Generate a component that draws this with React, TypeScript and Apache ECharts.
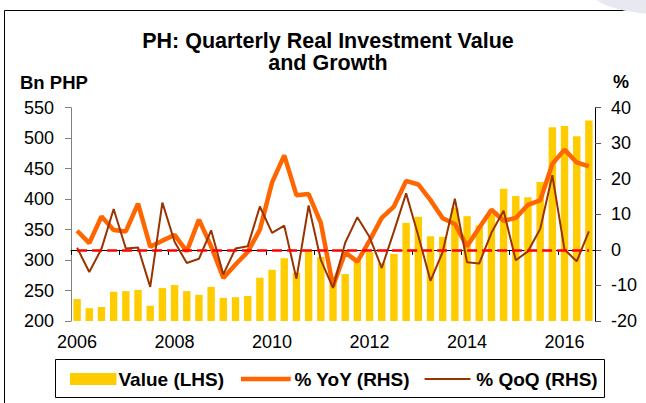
import React, { useEffect, useRef } from "react";
import * as echarts from "echarts";

const years = ["2006", "2007", "2008", "2009", "2010", "2011", "2012", "2013", "2014", "2015", "2016"];
const quarters = ["Q1", "Q2", "Q3", "Q4"];
const categories: string[] = [];
years.forEach((y) => quarters.forEach((q) => categories.push(y + " " + q)));
categories.splice(43);

// Bn PHP (LHS)
const valueLHS = [236, 221, 223, 248, 249, 251, 225, 254, 259, 249, 243, 256, 238, 239, 241, 271, 284, 303, 279, 314, 305, 272, 277, 300, 313, 295, 310, 361, 371, 339, 338, 386, 372, 357, 375, 417, 405, 403, 428, 518, 520, 503, 529];
// % YoY (RHS)
const yoyRHS = [5.4, 1.9, 9.4, 5.6, 5.2, 13.0, 0.9, 2.6, 4.2, -0.4, 8.5, 1.0, -7.9, -4.1, -0.6, 5.7, 19.0, 26.6, 15.4, 15.7, 7.6, -10.2, -0.7, -3.3, 2.6, 9.0, 12.2, 19.4, 18.4, 14.0, 8.9, 7.3, 1.0, 6.2, 11.3, 8.2, 9.0, 12.7, 13.9, 24.2, 28.2, 24.6, 23.5];
// % QoQ (RHS)
const qoqRHS = [0.6, -6.2, 0.3, 11.5, 0.4, 0.7, -10.4, 13.3, 2.3, -3.7, -2.5, 5.5, -6.9, 0.4, 1.0, 12.2, 4.8, 6.8, -8.1, 12.5, -2.8, -10.7, 2.0, 9.2, 3.6, -5.1, 5.2, 15.9, 4.0, -8.7, -0.6, 14.4, -3.5, -3.8, 4.8, 11.0, -2.9, -0.4, 5.9, 21.0, 0.1, -3.2, 5.2];

const FONT = "'Liberation Sans', Arial, sans-serif";
const zeroLineStyle = { color: "#FF0000", type: "dashed", dashOffset: 0, width: 2.5, opacity: 1 };

export default function App() {
  const ref = useRef<HTMLDivElement>(null);
  useEffect(() => {
    document.body.style.margin = "0";
    const chart = echarts.init(ref.current!, undefined, { renderer: "svg" });
    chart.setOption({
      animation: false,
      backgroundColor: "#ffffff",
      textStyle: { fontFamily: FONT },
      grid: { left: 71, right: 51, top: 107.7, bottom: 82, containLabel: false },
      xAxis: {
        type: "category",
        data: categories,
        boundaryGap: true,
        axisLine: { show: true, lineStyle: { color: "#000", width: 1 } },
        axisTick: { show: true, interval: 3, length: 5, lineStyle: { color: "#000" } },
        axisLabel: {
          interval: 7,
          margin: 12,
          fontSize: 18,
          color: "#000",
          fontFamily: FONT,
          formatter: (v: string) => v.slice(0, 4),
        },
        splitLine: { show: false },
      },
      yAxis: [
        {
          type: "value",
          position: "left",
          min: 200,
          max: 550,
          interval: 50,
          axisLine: { show: true, lineStyle: { color: "#808080", width: 1 } },
          axisTick: { show: true, length: 6, lineStyle: { color: "#808080" } },
          axisLabel: { margin: 17, fontSize: 18, color: "#000", fontFamily: FONT },
          splitLine: { show: false },
        },
        {
          type: "value",
          position: "right",
          min: -20,
          max: 40,
          interval: 10,
          axisLine: { show: true, lineStyle: { color: "#000", width: 1 } },
          axisTick: { show: true, length: 6, lineStyle: { color: "#555" } },
          axisLabel: { margin: 16, fontSize: 18, color: "#000", fontFamily: FONT },
          splitLine: { show: false },
        },
      ],
      series: [
        {
          name: "Value (LHS)",
          type: "bar",
          yAxisIndex: 0,
          data: valueLHS,
          barWidth: 7.4,
          itemStyle: { color: "#FFCC00" },
          z: 1,
        },
        {
          name: "% YoY (RHS)",
          type: "line",
          yAxisIndex: 1,
          data: yoyRHS,
          symbol: "none",
          lineStyle: { color: "#FF6600", width: 4.5 },
          itemStyle: { color: "#FF6600" },
          z: 3,
          markLine: {
            silent: true,
            symbol: ["none", "none"],
            label: { show: false },
            emphasis: { disabled: true },
            lineStyle: zeroLineStyle,
            data: [
              [
                { coord: [categories[0], 0], lineStyle: zeroLineStyle },
                { coord: [categories[categories.length - 1], 0], lineStyle: zeroLineStyle },
              ],
            ],
          },
        },
        {
          name: "% QoQ (RHS)",
          type: "line",
          yAxisIndex: 1,
          data: qoqRHS,
          symbol: "none",
          lineStyle: { color: "#993300", width: 2 },
          itemStyle: { color: "#993300" },
          z: 4,
        },
      ],
      graphic: [
        { type: "line", shape: { x1: 4.5, y1: 10.5, x2: 646, y2: 10.5 }, style: { stroke: "#000", lineWidth: 1 }, silent: true },
        { type: "line", shape: { x1: 4.5, y1: 10.5, x2: 4.5, y2: 403 }, style: { stroke: "#000", lineWidth: 1 }, silent: true },
        { type: "ellipse", shape: { cx: 662, cy: -8, rx: 70, ry: 22 }, style: { fill: "#E8E8F1" }, silent: true },
        {
          type: "text",
          x: 328,
          y: 41,
          style: { text: "PH: Quarterly Real Investment Value", fontSize: 21.5, fontWeight: "bold", fontFamily: FONT, fill: "#000", align: "center", verticalAlign: "middle" },
        },
        {
          type: "text",
          x: 328,
          y: 63,
          style: { text: "and Growth", fontSize: 21.5, fontWeight: "bold", fontFamily: FONT, fill: "#000", align: "center", verticalAlign: "middle" },
        },
        {
          type: "text",
          x: 20,
          y: 82,
          style: { text: "Bn PHP", fontSize: 18.5, fontWeight: "bold", fontFamily: FONT, fill: "#000", align: "left", verticalAlign: "middle" },
        },
        {
          type: "text",
          x: 621,
          y: 82,
          style: { text: "%", fontSize: 18, fontWeight: "bold", fontFamily: FONT, fill: "#000", align: "center", verticalAlign: "middle" },
        },
        { type: "rect", shape: { x: 55.5, y: 359.5, width: 549, height: 38 }, style: { fill: "#fff", stroke: "#000", lineWidth: 1 }, silent: true },
        { type: "rect", shape: { x: 70, y: 373, width: 46.5, height: 12 }, style: { fill: "#FFCC00" }, silent: true },
        {
          type: "text",
          x: 118.5,
          y: 379,
          style: { text: "Value (LHS)", fontSize: 19, fontWeight: "bold", fontFamily: FONT, fill: "#000", align: "left", verticalAlign: "middle" },
        },
        { type: "line", shape: { x1: 241, y1: 379, x2: 290.7, y2: 379 }, style: { stroke: "#FF6600", lineWidth: 4.5 }, silent: true },
        {
          type: "text",
          x: 294.5,
          y: 379,
          style: { text: "% YoY (RHS)", fontSize: 19, fontWeight: "bold", fontFamily: FONT, fill: "#000", align: "left", verticalAlign: "middle" },
        },
        { type: "line", shape: { x1: 424.6, y1: 379, x2: 470.5, y2: 379 }, style: { stroke: "#993300", lineWidth: 2 }, silent: true },
        {
          type: "text",
          x: 476.3,
          y: 379,
          style: { text: "% QoQ (RHS)", fontSize: 19, fontWeight: "bold", fontFamily: FONT, fill: "#000", align: "left", verticalAlign: "middle" },
        },
      ],
    });
    return () => chart.dispose();
  }, []);
  return <div ref={ref} style={{ width: 646, height: 403 }} />;
}
